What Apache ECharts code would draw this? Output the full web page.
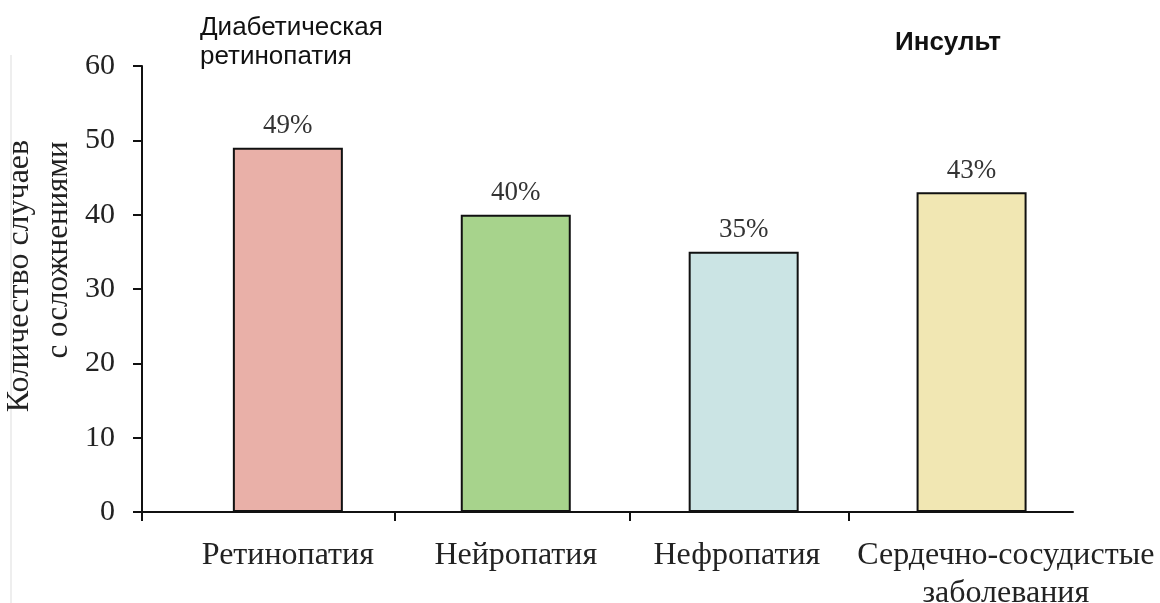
<!DOCTYPE html>
<html>
<head>
<meta charset="utf-8">
<script src="https://cdn.jsdelivr.net/npm/echarts@6/dist/echarts.min.js"></script>
<style>
  html, body { margin: 0; padding: 0; background: #fff; }
  #chart { width: 1160px; height: 603px; }
</style>
</head>
<body>
<div id="chart"></div>
<script>
// Complications among patients with diabetes
const categories = ['Ретинопатия', 'Нейропатия', 'Нефропатия', 'Сердечно-сосудистые\nзаболевания'];
const cases = [49, 40, 35, 43];
const barColors = ['#E9B0A8', '#A7D38C', '#CBE4E4', '#F1E7B3'];
const yTicks = [0, 10, 20, 30, 40, 50, 60];
// separators between category slots on the x axis
const xSeparators = [-0.64, 0.47, 1.5, 2.46];
// where each category name sits along the x axis (the long last one is nudged right)
const labelSlots = [0, 1, 1.97, 3.15];

const serif = "'Liberation Serif', 'Times New Roman', serif";
const sans = "'Liberation Sans', Arial, sans-serif";

const chart = echarts.init(document.getElementById('chart'), null, { renderer: 'canvas' });

const barData = cases.map((v, i) => ({
  value: [i, v],
  itemStyle: { color: barColors[i] }
}));

chart.setOption({
  animation: false,
  backgroundColor: '#ffffff',
  grid: { left: 142, right: 87, top: 66, bottom: 91, outerBoundsMode: 'none', containLabel: false },
  xAxis: {
    type: 'value',
    min: -0.64,
    max: 3.445,
    splitLine: { show: false },
    axisLine: { show: true, onZero: false, lineStyle: { color: '#111', width: 2 } },
    axisTick: {
      show: true,
      length: 9,
      lineStyle: { color: '#111', width: 2 },
      customValues: xSeparators
    },
    axisLabel: {
      customValues: labelSlots,
      showMinLabel: true,
      showMaxLabel: true,
      hideOverlap: false,
      margin: 25,
      color: '#222',
      fontFamily: serif,
      fontSize: 32,
      lineHeight: 38,
      formatter: v => categories[Math.round(v - 0.15)]
    }
  },
  yAxis: {
    type: 'value',
    min: yTicks[0],
    max: yTicks[yTicks.length - 1],
    interval: 10,
    name: '{a|Количество случаев}\n{b|с осложнениями}',
    nameLocation: 'middle',
    nameRotate: 90,
    nameGap: 62,
    nameTextStyle: {
      color: '#222',
      padding: [0, 0, 0, 26],
      rich: {
        a: { fontFamily: serif, fontSize: 32, color: '#222', lineHeight: 39 },
        b: { fontFamily: serif, fontSize: 31, color: '#222', lineHeight: 39, padding: [0, 0, 0, 52] }
      }
    },
    splitLine: { show: false },
    axisLine: { show: true, onZero: false, lineStyle: { color: '#111', width: 2 } },
    axisTick: { show: true, length: 9, lineStyle: { color: '#111', width: 2 } },
    axisLabel: {
      margin: 27,
      color: '#222',
      fontFamily: serif,
      fontSize: 30
    }
  },
  series: [{
    type: 'bar',
    barWidth: 110,
    data: barData,
    itemStyle: { borderColor: '#111', borderWidth: 2 },
    label: {
      show: true,
      position: 'top',
      distance: 8,
      color: '#333',
      fontFamily: serif,
      fontSize: 27,
      formatter: p => p.value[1] + '%'
    }
  }],
  graphic: [
    {
      type: 'line',
      shape: { x1: 11, y1: 55, x2: 11, y2: 603 },
      style: { stroke: '#dddddd', lineWidth: 1 },
      silent: true
    },
    {
      type: 'text',
      left: 200,
      top: 13,
      style: {
        text: 'Диабетическая\nретинопатия',
        font: '26px ' + sans,
        fill: '#111',
        lineHeight: 29
      }
    },
    {
      type: 'text',
      left: 895,
      top: 30,
      style: {
        text: 'Инсульт',
        font: 'bold 26px ' + sans,
        fill: '#111'
      }
    }
  ]
});
</script>
</body>
</html>
